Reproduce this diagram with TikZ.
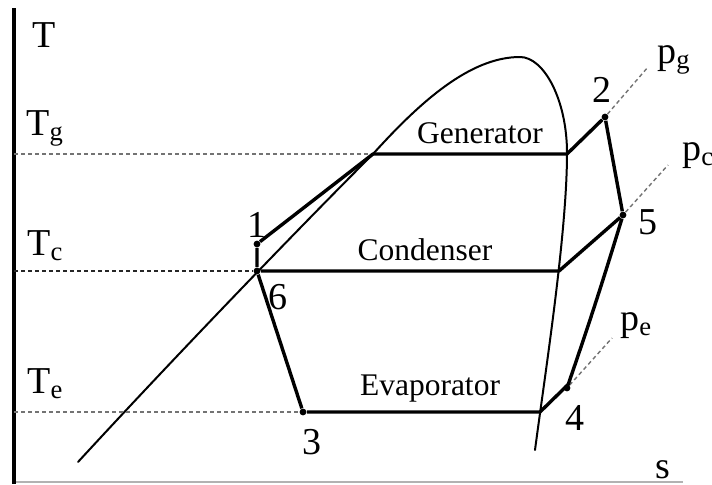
\documentclass[tikz,border=0pt]{standalone}
\usepackage{fontspec}
\setmainfont{Liberation Serif}
\tikzset{
  taxis/.style    = {line width=2pt, black},
  saxis/.style    = {line width=0.6pt, black!30},
  satline/.style  = {line width=1pt, black, line cap=round},
  cyc/.style      = {line width=1.7pt, black, line join=round},
  guide/.style    = {draw=black!55, line width=0.7pt, dash pattern=on 2pt off 1.5pt},
  guidek/.style   = {draw=black!85, line width=0.7pt, dash pattern=on 2pt off 1.5pt},
  state/.style    = {circle, fill=black, inner sep=0pt, minimum size=3.4pt},
  num/.style      = {font=\fontsize{19}{22}\selectfont, inner sep=0pt},
  lvl/.style      = {font=\fontsize{19}{22}\selectfont, anchor=base west, inner sep=0pt},
  proc/.style     = {font=\fontsize{15.75}{18}\selectfont, anchor=base, inner sep=0pt},
}

\begin{document}
\begin{tikzpicture}[x=0.5pt,y=0.5pt]
  \useasboundingbox (0,0) rectangle (712,484);

  % axes
  \draw[saxis] (14,2) -- (683,2);
  \draw[taxis] (14,476) -- (14,0);
  \node[lvl] (tlab) at (32,437) {T};
  \node[num] (slab) at (663,14) {s};

  % saturation dome
  \draw[satline] (78,22) .. controls (170,122) and (295,252) .. (373,330)
    .. controls (420,382) and (470,427) .. (520,427)
    .. controls (544,427) and (567,384) .. (567,331)
    .. controls (567,250) and (545,110) .. (535,34);

  % cycle states
  \node[state] (s1) at (257,240) {};
  \node[state] (s2) at (605,367) {};
  \node[state] (s3) at (303,72) {};
  \node[state] (s4) at (567,96) {};
  \node[state] (s5) at (623,269) {};
  \node[state] (s6) at (257,213) {};
  \coordinate (g1) at (373,330);
  \coordinate (g2) at (567,330);
  \coordinate (c2) at (559,213);
  \coordinate (e2) at (540,72);

  % temperature levels
  \coordinate (tg0) at (14,330);
  \coordinate (tc0) at (14,213);
  \coordinate (te0) at (14,72);
  \draw[guide] (tg0) -- (g1);
  \draw[guidek] (tc0) -- (s6);
  \draw[guide] (te0) -- (s3);
  \node[lvl] (tg) at (26,349) {T\textsubscript{g}};
  \node[lvl] (tc) at (27,229) {T\textsubscript{c}};
  \node[lvl] (te) at (27,91) {T\textsubscript{e}};

  % isobars
  \coordinate (pg1) at (648,417);
  \coordinate (pc1) at (668,319);
  \coordinate (pe1) at (612,146);
  \draw[guide] (s2) -- (pg1);
  \draw[guide] (s5) -- (pc1);
  \draw[guide] (s4) -- (pe1);
  \node[lvl] (pg) at (657,421) {p\textsubscript{g}};
  \node[lvl] (pc) at (682,324) {p\textsubscript{c}};
  \node[lvl] (pe) at (620,154) {p\textsubscript{e}};

  % cycle
  \draw[cyc] (s6) -- (s1) -- (g1) -- (g2) -- (s2) -- (s5) to[bend left=1] (s4) -- (e2) -- (s3) -- (s6);
  \draw[cyc] (s5) -- (c2) -- (s6);

  % labels
  \foreach \n/\x/\y in {1/257/259, 2/602/394, 3/312/42, 4/575/66, 5/648/262, 6/278/187} {
    \node[num] (n\n) at (\x,\y) {\n};
  }
  \node[proc] (gen) at (480,341) {Generator};
  \node[proc] (con) at (425,224) {Condenser};
  \node[proc] (eva) at (430,89) {Evaporator};
\end{tikzpicture}
\end{document}
